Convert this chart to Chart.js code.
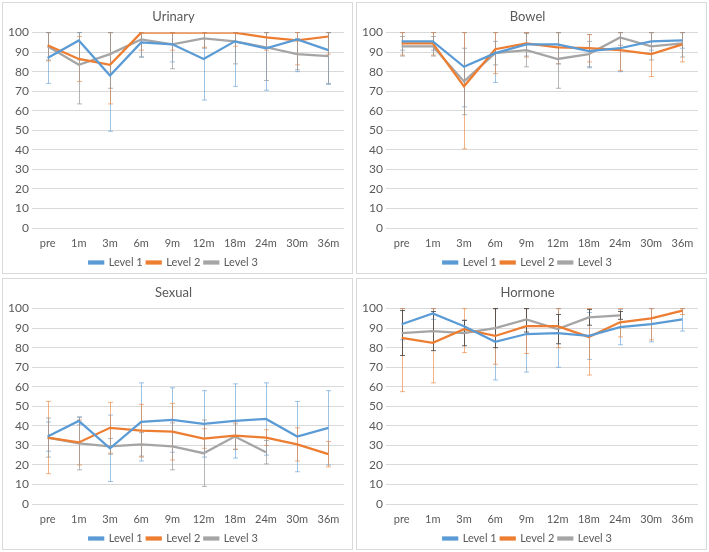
<!DOCTYPE html>
<html>
<head>
<meta charset="utf-8">
<script src="https://cdn.jsdelivr.net/npm/chart.js@4.4.0/dist/chart.umd.min.js"></script>
<style>
  body { margin: 0; background: #fff; width: 709px; height: 552px; position: relative; overflow: hidden; }
  .panel { position: absolute; width: 351px; height: 272px; border: 1px solid #d9d9d9; box-sizing: border-box; background: #fff; overflow: hidden; }
  .panel canvas { display: block; }
</style>
</head>
<body>
<div class="panel" style="left:2px;top:2px"><canvas id="urinary" width="349" height="275"></canvas></div>
<div class="panel" style="left:356px;top:2px"><canvas id="bowel" width="349" height="275"></canvas></div>
<div class="panel" style="left:2px;top:278px"><canvas id="sexual" width="349" height="275"></canvas></div>
<div class="panel" style="left:356px;top:278px"><canvas id="hormone" width="349" height="275"></canvas></div>
<script>
const categories = ['pre', '1m', '3m', '6m', '9m', '12m', '18m', '24m', '30m', '36m'];
const seriesNames = ['Level 1', 'Level 2', 'Level 3'];
const yMin = 0, yMax = 100, yStep = 10;

// Urinary: means and error (+/-)
const urinaryLevel1 = [87, 96, 78, 95, 94, 86.5, 95.5, 92, 96.5, 91];
const urinaryLevel1Err = [13, 10, 28.5, 7.5, 9, 21, 23, 21.5, 16.5, 17.5];
const urinaryLevel2 = [93.5, 86.5, 83.5, 100, 100, 100, 100, 97.5, 96, 98];
const urinaryLevel2Err = [8, 11.5, 20, 9, 9, 7.5, 7, 6.5, 12.5, 9];
const urinaryLevel3 = [93, 83.5, 89, 96.5, 94, 97, 95.5, 92.5, 89, 88];
const urinaryLevel3Err = [7, 20, 17.5, 9, 12.5, 5, 11.5, 17, 8, 14];

// Bowel
const bowelLevel1 = [95.5, 95.5, 82.5, 89.5, 94, 94, 90.5, 92, 95.5, 96];
const bowelLevel1Err = [4.5, 4.5, 20.5, 15, 6, 10, 8.5, 12, 4.5, 4];
const bowelLevel2 = [94.5, 94.5, 72.5, 91.5, 94.5, 92.5, 92, 91, 89, 94];
const bowelLevel2Err = [6, 6, 32, 12.5, 7, 8.5, 7, 10.5, 11.5, 9];
const bowelLevel3 = [93, 93, 75, 89.5, 91, 86.5, 89, 97.5, 93, 94.5];
const bowelLevel3Err = [5, 5, 17, 6, 8.5, 15, 6.5, 4, 7, 7];

// Sexual
const sexualLevel1 = [34.5, 42.5, 28.5, 42, 43, 41, 42.5, 43.5, 34.5, 39];
const sexualLevel1Err = [7.5, 2, 17, 20, 16.5, 17, 19, 18.5, 18, 19];
const sexualLevel2 = [34, 31.5, 39, 37.5, 37, 33.5, 35, 34, 30.5, 25.5];
const sexualLevel2Err = [18.5, 11.5, 13, 13.5, 14.5, 5, 7, 4, 8.5, 6.5];
const sexualLevel3 = [34, 31, 29.5, 30.5, 29.5, 26, 34.5, 26.5, null, null];
const sexualLevel3Err = [10, 13.5, 4, 6, 12, 17, 6.5, 6, null, null];

// Hormone
const hormoneLevel1 = [92, 97.5, 91, 83, 87, 87.5, 86, 90.5, 92, 94.5];
const hormoneLevel1Err = [8, 3, 3, 19.5, 19.5, 17.5, 12, 9, 9, 6];
const hormoneLevel2 = [85, 82.5, 89.5, 86, 91, 91, 85.5, 93, 95, 99];
const hormoneLevel2Err = [27.5, 20.5, 12, 14.5, 14, 11, 19.5, 7.5, 11, 2];
const hormoneLevel3 = [87.5, 88.5, 87.5, 90, 94.5, 89.5, 95.5, 96.5, null, null];
const hormoneLevel3Err = [11.5, 10, 6.5, 10, 6.5, 7.5, 4, 2, null, null];

const lineColors = ['#5b9bd5', '#ed7d31', '#a5a5a5'];
const errColors = ['rgba(91,155,213,0.6)', 'rgba(237,125,49,0.6)', 'rgba(150,150,150,0.7)'];
const textColor = '#595959';
const fontFamily = 'Lato, "Liberation Sans", sans-serif';

// draws +/- error bars through the chart scales
const errorBars = {
  id: 'errorBars',
  beforeDatasetsDraw(chart) {
    const { ctx, chartArea, scales } = chart;
    const x = scales.x, y = scales.y;
    ctx.save();
    ctx.beginPath();
    ctx.rect(chartArea.left, chartArea.top - 1, chartArea.right - chartArea.left, chartArea.bottom - chartArea.top + 2);
    ctx.clip();
    chart.data.datasets.forEach((ds) => {
      ctx.strokeStyle = ds.errorColor;
      ctx.lineWidth = 1;
      ds.data.forEach((v, j) => {
        if (v == null || ds.errors[j] == null) return;
        const e = ds.errors[j];
        const px = Math.round(x.getPixelForValue(j)) + 0.5;
        const top = y.getPixelForValue(Math.min(v + e, y.max));
        const bot = y.getPixelForValue(Math.max(v - e, y.min));
        ctx.beginPath();
        ctx.moveTo(px, top);
        ctx.lineTo(px, bot);
        ctx.moveTo(px - 2.5, top);
        ctx.lineTo(px + 2.5, top);
        ctx.moveTo(px - 2.5, bot);
        ctx.lineTo(px + 2.5, bot);
        ctx.stroke();
      });
    });
    ctx.restore();
  },
};

function makeChart(id, title, series, errors, errCols) {
  const datasets = series.map((data, i) => ({
    label: seriesNames[i],
    data: data,
    errors: errors[i],
    errorColor: errCols[i],
    borderColor: lineColors[i],
    backgroundColor: lineColors[i],
    borderWidth: 2.25,
    pointRadius: 0,
    pointHoverRadius: 0,
    tension: 0,
    fill: false,
  }));
  return new Chart(document.getElementById(id), {
    type: 'line',
    data: { labels: categories, datasets: datasets },
    plugins: [errorBars],
    options: {
      responsive: false,
      animation: false,
      layout: { padding: { left: 0, right: 8, top: 0, bottom: 0 } },
      plugins: {
        title: {
          display: true,
          text: title,
          color: textColor,
          font: { family: fontFamily, size: 13, weight: 'normal' },
          padding: { top: 6, bottom: 8 },
        },
        legend: {
          position: 'bottom',
          labels: {
            boxWidth: 14,
            boxHeight: 2,
            color: textColor,
            font: { family: fontFamily, size: 11 },
            padding: 4,
          },
        },
        tooltip: { enabled: false },
      },
      scales: {
        x: {
          offset: true,
          grid: { display: false, drawTicks: false },
          border: { display: false },
          ticks: { color: textColor, font: { family: fontFamily, size: 11 }, padding: 9, maxRotation: 0 },
          afterFit: (scale) => { scale.height = 25; },
        },
        y: {
          min: yMin,
          max: yMax,
          grid: { color: '#d9d9d9', drawTicks: false },
          border: { display: false },
          ticks: { stepSize: yStep, color: textColor, font: { family: fontFamily, size: 12 }, padding: 3 },
          afterFit: (scale) => { scale.width = 29; },
        },
      },
    },
  });
}

makeChart('urinary', 'Urinary',
  [urinaryLevel1, urinaryLevel2, urinaryLevel3],
  [urinaryLevel1Err, urinaryLevel2Err, urinaryLevel3Err], errColors);
makeChart('bowel', 'Bowel',
  [bowelLevel1, bowelLevel2, bowelLevel3],
  [bowelLevel1Err, bowelLevel2Err, bowelLevel3Err], errColors);
makeChart('sexual', 'Sexual',
  [sexualLevel1, sexualLevel2, sexualLevel3],
  [sexualLevel1Err, sexualLevel2Err, sexualLevel3Err], errColors);
makeChart('hormone', 'Hormone',
  [hormoneLevel1, hormoneLevel2, hormoneLevel3],
  [hormoneLevel1Err, hormoneLevel2Err, hormoneLevel3Err],
  [errColors[0], errColors[1], 'rgba(64,64,64,0.8)']);
</script>
</body>
</html>
